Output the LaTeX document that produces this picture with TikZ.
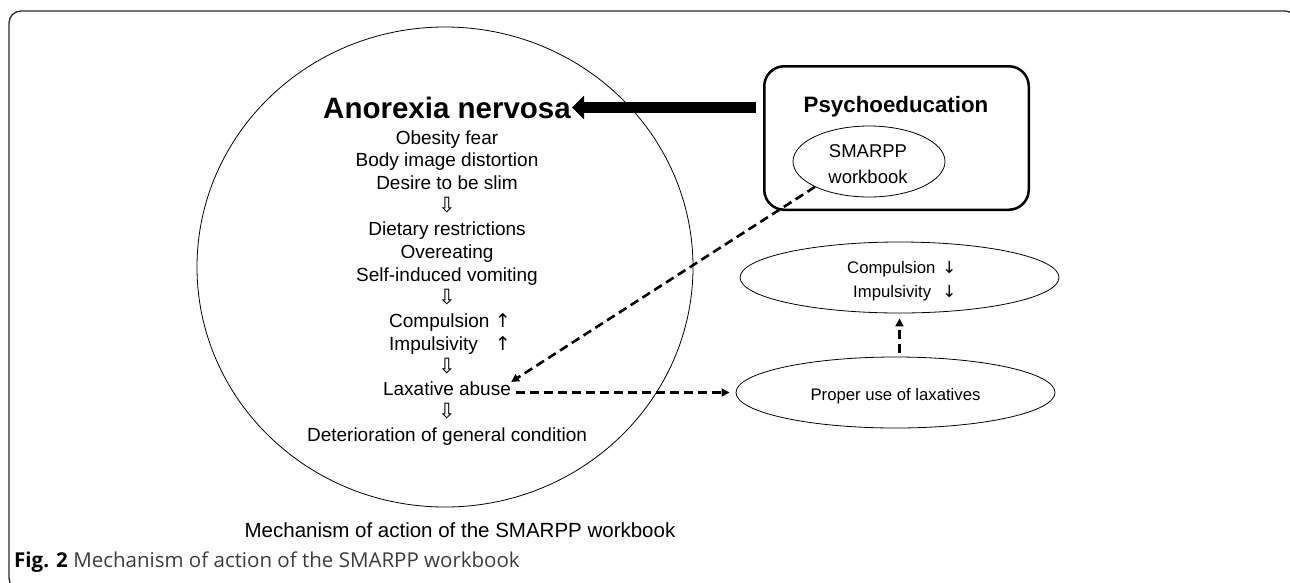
\documentclass[tikz,border=0pt]{standalone}
\usepackage{fontspec}
\setmainfont{Liberation Sans}
\newfontfamily\arrowfont{DejaVu Sans}
\newfontfamily\capfont{Open Sans}
\usetikzlibrary{arrows.meta,shapes.geometric,calc}
\definecolor{framegray}{RGB}{40,40,40}
\definecolor{capgray}{RGB}{60,60,60}
\begin{document}
\begin{tikzpicture}[x=1pt,y=-1pt,
  txt/.style={inner sep=0pt, font=\fontsize{19}{22}\selectfont, anchor=base},
  rtxt/.style={inner sep=0pt, font=\fontsize{16.7}{20}\selectfont, anchor=base west},
  smtxt/.style={inner sep=0pt, font=\fontsize{18.5}{22}\selectfont, anchor=base},
  dasharrow/.style={line width=2.6pt, dash pattern=on 9pt off 5pt, -{Triangle[length=8pt,width=8pt]}},
  oval/.style={draw, ellipse, line width=0.8pt, inner sep=0pt},
  dnarrow/.style={inner sep=0pt, anchor=base, font=\arrowfont\fontsize{21}{23}\selectfont},
]
\useasboundingbox (0,0) rectangle (1290,582);
\clip (0,0) rectangle (1290,582);
\draw[line width=1.3pt, rounded corners=12pt, framegray] (9,11) rectangle (1297,590);

% big circle
\node[oval, minimum width=496pt, minimum height=480pt] (big) at (445,267) {};

\node[txt, font=\bfseries\fontsize{29.5}{32}\selectfont] (an) at (447,118) {Anorexia nervosa};
\node[txt] (l0) at (447,144) {Obesity fear};
\node[txt] (l1) at (447,166.9) {Body image distortion};
\node[txt] (l2) at (447,189.8) {Desire to be slim};
\node[dnarrow] (a1) at (447,212.7) {⇩};
\node[txt] (l4) at (447,235.6) {Dietary restrictions};
\node[txt] (l5) at (447,258.5) {Overeating};
\node[txt] (l6) at (447,281.4) {Self-induced vomiting};
\node[dnarrow] (a2) at (447,304.3) {⇩};
\node[txt, anchor=base west] (l8) at (389,327.2) {Compulsion {\arrowfont ↑}};
\node[txt, anchor=base west] (l9) at (389,350.1) {\rlap{Impulsivity}\phantom{Compulsion} {\arrowfont ↑}};
\node[dnarrow] (a3) at (447,373) {⇩};
\node[txt] (lax) at (447,395.9) {Laxative abuse};
\node[dnarrow] (a4) at (447,418.8) {⇩};
\node[txt] (l13) at (447,441.7) {Deterioration of general condition};

% psychoeducation box
\node[draw, line width=2.5pt, rounded corners=20pt, minimum width=264.5pt, minimum height=143.5pt] (psy) at (896.5,138) {};
\node[txt, font=\bfseries\fontsize{22.3}{26}\selectfont] (psyt) at (896,112) {Psychoeducation};
\node[oval, minimum width=152pt, minimum height=71pt] (sm) at (869,161.5) {};
\node[smtxt] (sm1) at (868,157) {SMARPP};
\node[smtxt] (sm2) at (868,183) {workbook};

% right ellipses
\node[oval, minimum width=319pt, minimum height=71pt] (cmp) at (899.5,277.5) {};
\node[rtxt] (c1) at (847,273) {Compulsion\hspace{7pt}{\arrowfont ↓}};
\node[rtxt] (c2) at (847,297) {\rlap{\hspace{6pt}Impulsivity}\phantom{Compulsion}\hspace{7pt}{\arrowfont ↓}};
\node[oval, minimum width=319pt, minimum height=71pt] (pro) at (895.5,392.5) {};
\node[rtxt, anchor=base] (p1) at (895.5,400) {Proper use of laxatives};

% thick arrow
\coordinate (tip) at (572,107.5);
\draw[line width=11.7pt, -{Triangle[length=12pt,width=23pt]}] ($(psy.west |- tip)+(-7,0)$) -- (tip);

% dashed arrows
\draw[dasharrow] (sm.south west) -- (lax.north east);
\draw[dasharrow] ($(lax.east |- pro.west)+(5,0)$) -- ($(pro.west)+(-6,0)$);
\draw[dasharrow] ($(cmp.south |- pro.north)+(0,-4)$) -- ($(cmp.south)+(0,5)$);

% captions
\node[anchor=base, inner sep=0pt, font=\fontsize{20.5}{24}\selectfont] (mech) at (460,537) {Mechanism of action of the SMARPP workbook};
\node[anchor=base west, inner sep=0pt, font=\capfont\fontsize{20.5}{24}\selectfont, text=capgray] (fig) at (14,567) {{\color{black}\bfseries Fig. 2} Mechanism of action of the SMARPP workbook};
\end{tikzpicture}
\end{document}
